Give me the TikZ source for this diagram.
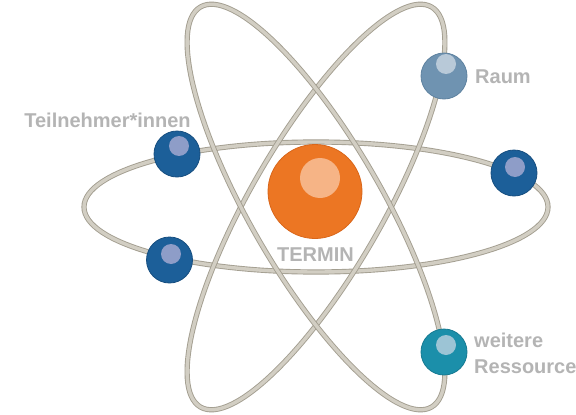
\documentclass[tikz,border=0pt]{standalone}
\usepackage{fontspec}
\setmainfont{Liberation Sans}
\usetikzlibrary{calc}
\definecolor{orbitfill}{HTML}{D2CEC3}
\definecolor{orbitedge}{HTML}{A39E90}
\definecolor{labelgrey}{HTML}{B4B4B4}
\definecolor{orangeball}{HTML}{EC7623}
\definecolor{orangeedge}{HTML}{D9661A}
\definecolor{orangehl}{HTML}{F6B486}
\definecolor{raumball}{HTML}{6F93B1}
\definecolor{raumedge}{HTML}{5E82A0}
\definecolor{raumhl}{HTML}{B8C9D8}
\definecolor{blueball}{HTML}{1C5F99}
\definecolor{blueedge}{HTML}{164E80}
\definecolor{bluehl}{HTML}{8E9DC8}
\definecolor{tealball}{HTML}{1B8FAA}
\definecolor{tealedge}{HTML}{167A92}
\definecolor{tealhl}{HTML}{9CC4D5}
\begin{document}
\begin{tikzpicture}[x=1pt,y=-1pt,
  orbitline/.style={draw=orbitedge, line width=0.9pt, double=orbitfill, double distance=3.4pt},
  ball/.style={circle, inner sep=0pt, minimum size=46pt, line width=0.8pt},
  hl/.style={circle, inner sep=0pt, minimum size=20pt},
  lbl/.style={text=labelgrey, font=\fontsize{20}{24}\selectfont\bfseries, inner sep=0pt}]
\useasboundingbox (0,0) rectangle (576,415);
\fill[white] (0,0) rectangle (576,415);
\coordinate (c) at (316,207);
% orbits
\draw[orbitline] (c) ellipse [x radius=232, y radius=65];
\draw[orbitline, rotate around={60:(c)}] (c) ellipse [x radius=231, y radius=66];
\draw[orbitline, rotate around={-60:(c)}] (c) ellipse [x radius=231, y radius=66];
% nucleus
\node[ball, fill=orangeball, draw=orangeedge, minimum size=94pt] (termin) at (315,191.5) {};
\node[hl, fill=orangehl, minimum size=40pt] (terminhl) at (320,178) {};
% electrons
\node[ball, fill=raumball, draw=raumedge] (raum) at (444,76) {};
\node[hl, fill=raumhl] (raumhl) at (446,64) {};
\node[ball, fill=tealball, draw=tealedge] (weit) at (444,352) {};
\node[hl, fill=tealhl] (weithl) at (446,345) {};
\node[ball, fill=blueball, draw=blueedge] (teil) at (177,154) {};
\node[hl, fill=bluehl] (teilhl) at (179,146) {};
\node[ball, fill=blueball, draw=blueedge] (bl) at (169.5,260) {};
\node[hl, fill=bluehl] (blhl) at (171,254) {};
\node[ball, fill=blueball, draw=blueedge] (br) at (514,173) {};
\node[hl, fill=bluehl] (brhl) at (515,167) {};
% labels
\node[lbl, anchor=base west] (traum) at (475,83) {Raum};
\node[lbl, anchor=base] (ttermin) at (315.5,261) {TERMIN};
\node[lbl, anchor=base] (tteil) at (107.5,127) {Teilnehmer*innen};
\node[lbl, anchor=base west] (tweit) at (474,347) {weitere};
\node[lbl, anchor=base west] (tress) at (474,373) {Ressource};
\end{tikzpicture}
\end{document}
